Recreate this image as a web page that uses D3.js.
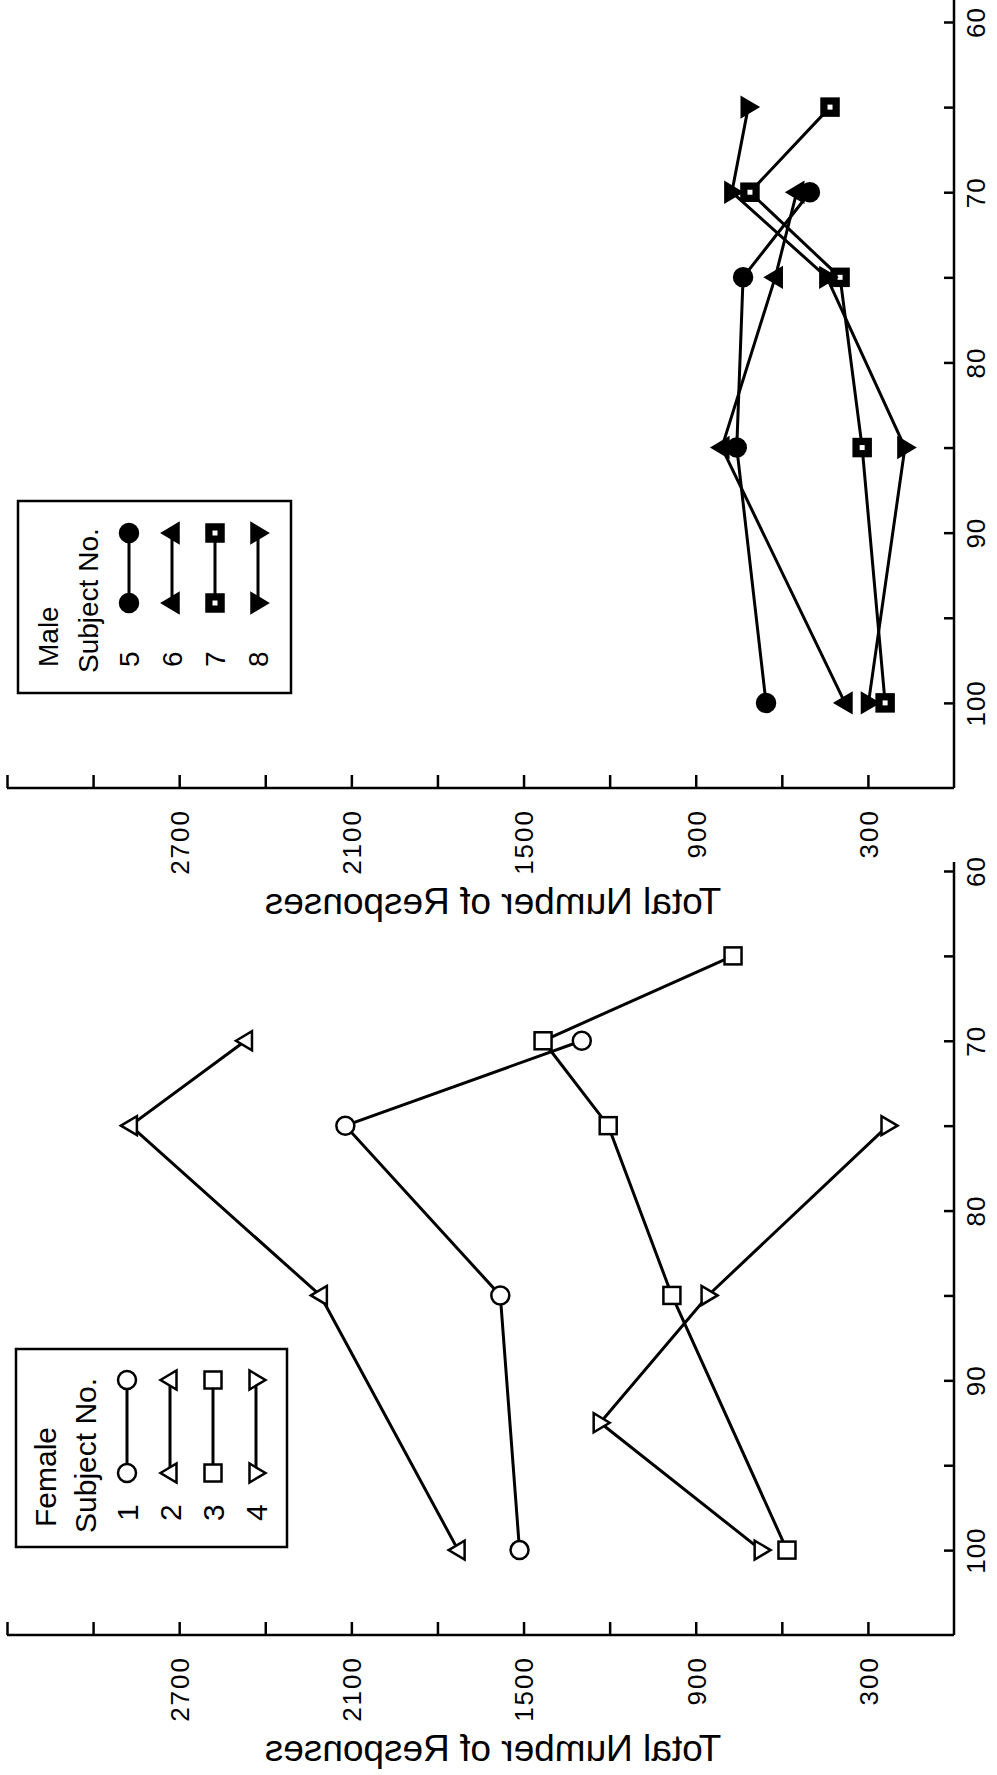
<!DOCTYPE html>
<html>
<head>
<meta charset="utf-8">
<script src="https://cdnjs.cloudflare.com/ajax/libs/d3/7.8.5/d3.min.js"></script>
<style>
    body { margin: 0; background: #fff; }
    svg { display: block; font-family: 'Liberation Sans', Arial, sans-serif; }
    .domain, .tick line { stroke: #000; stroke-width: 2.5; }
</style>
</head>
<body>
<div id="chart"></div>
<script>
//Ejes
const CAT_TICKS = [60, 65, 70, 75, 80, 85, 90, 95, 100];
const CAT_LABELS = [60, 70, 80, 90, 100];
const VAL_TICKS = [300, 600, 900, 1200, 1500, 1800, 2100, 2400, 2700, 3000, 3300];
const VAL_LABELS = [300, 900, 1500, 2100, 2700];
const AXIS_TITLE = 'Total Number of Responses';

//Female (sujetos 1-4)
const s1Cat = [70, 75, 85, 100], s1Val = [1297, 2121, 1581, 1514];
const s2Cat = [70, 75, 85, 100], s2Val = [2469, 2870, 2208, 1728];
const s3Cat = [65, 70, 75, 85, 100], s3Val = [770, 1432, 1205, 983, 582];
const s4Cat = [75, 85, 92.5, 100], s4Val = [230, 857, 1233, 672];

//Male (sujetos 5-8)
const s5Cat = [70, 75, 85, 100], s5Val = [502, 735, 757, 655];
const s6Cat = [70, 75, 85, 100], s6Val = [548, 623, 809, 380];
const s7Cat = [65, 70, 75, 85, 100], s7Val = [432, 711, 397, 320, 240];
const s8Cat = [65, 70, 75, 85, 100], s8Val = [717, 774, 443, 171, 298];

function serie(id, cat, val, symbol, filled) {
    return { id: id, symbol: symbol, filled: filled,
        points: cat.map(function(c, i) { return { cat: c, val: val[i] }; }) };
}

const panels = [
    {
        title: 'Male', yRange: [22, 788], lineTop: 0,
        legend: { x: 18, y: 501, w: 273, h: 192, top: 32, bottom: 102, num: 166, font: 28, textBottom: 172 },
        series: [
            serie('5', s5Cat, s5Val, 'circle', true),
            serie('6', s6Cat, s6Val, 'triLeft', true),
            serie('7', s7Cat, s7Val, 'square', true),
            serie('8', s8Cat, s8Val, 'triRight', true)
        ]
    },
    {
        title: 'Female', yRange: [871, 1635], lineTop: 862,
        legend: { x: 16, y: 1349, w: 271, h: 198, top: 31, bottom: 124, num: 172, font: 30, textBottom: 184 },
        series: [
            serie('1', s1Cat, s1Val, 'circle', false),
            serie('2', s2Cat, s2Val, 'triLeft', false),
            serie('3', s3Cat, s3Val, 'square', false),
            serie('4', s4Cat, s4Val, 'triRight', false)
        ]
    }
];

let svg = d3.select('#chart')
    .append('svg')
        .attr('width', 997)
        .attr('height', 1775);

let x = d3.scaleLinear()
    .domain([0, 3300])
    .range([954, 7]);

//Marcadores
function drawSymbol(g, type, filled, cx, cy) {
    let fill = filled ? '#000' : '#fff';
    if (type == 'circle') {
        g.append('circle').attr('cx', cx).attr('cy', cy).attr('r', 9)
            .attr('fill', fill).attr('stroke', '#000').attr('stroke-width', 2.5);
    } else if (type == 'square') {
        g.append('rect').attr('x', cx - 8.5).attr('y', cy - 8.5).attr('width', 17).attr('height', 17)
            .attr('fill', fill).attr('stroke', '#000').attr('stroke-width', 2.5);
        if (filled) {
            g.append('rect').attr('x', cx - 2.5).attr('y', cy - 2.5).attr('width', 5).attr('height', 5).attr('fill', '#fff');
        }
    } else {
        let dir = type == 'triLeft' ? -1 : 1;
        let pts = [[cx + dir * 9.5, cy], [cx - dir * 6.5, cy - 9.5], [cx - dir * 6.5, cy + 9.5]];
        g.append('path').attr('d', 'M' + pts.join('L') + 'Z')
            .attr('fill', fill).attr('stroke', '#000').attr('stroke-width', 2.5).attr('stroke-linejoin', 'miter');
    }
}

panels.forEach(function(p) {
    let y = d3.scaleLinear()
        .domain([60, 105])
        .range(p.yRange);
    let axisY = y(105);

    //Eje de respuestas (horizontal)
    let xAxis = d3.axisBottom(x)
        .tickValues(VAL_TICKS)
        .tickSizeInner(-13)
        .tickSizeOuter(0)
        .tickFormat(function(d) { return VAL_LABELS.indexOf(d) > -1 ? d : ''; });

    let gx = svg.append('g')
        .attr('transform', 'translate(0,' + axisY + ')')
        .call(xAxis);
    gx.select('.domain').attr('d', 'M' + x(0) + ',0H' + x(3300));
    gx.selectAll('.tick text')
        .attr('transform', 'rotate(-90)')
        .attr('x', -21)
        .attr('y', 0)
        .attr('dy', '0.36em')
        .attr('text-anchor', 'end')
        .attr('font-size', 26)
        .attr('letter-spacing', 2)
        .attr('fill', '#000');

    //Eje de tono (vertical)
    let yAxis = d3.axisRight(y)
        .tickValues(CAT_TICKS)
        .tickSizeInner(-10)
        .tickSizeOuter(0)
        .tickFormat(function(d) { return CAT_LABELS.indexOf(d) > -1 ? d : ''; });

    let gy = svg.append('g')
        .attr('transform', 'translate(' + x(0) + ',0)')
        .call(yAxis);
    gy.select('.domain').attr('d', 'M0,' + p.lineTop + 'V' + axisY);
    gy.selectAll('.tick text')
        .attr('transform', 'translate(22,0) rotate(-90)')
        .attr('x', 0)
        .attr('y', 0)
        .attr('dy', '0.36em')
        .attr('text-anchor', 'middle')
        .attr('font-size', 26)
        .attr('letter-spacing', 1)
        .attr('fill', '#000');

    //Titulo del eje (espejado como en el original)
    svg.append('text')
        .attr('transform', 'translate(493,' + (axisY + 126) + ') scale(-1,1)')
        .attr('text-anchor', 'middle')
        .attr('font-size', 37)
        .text(AXIS_TITLE);

    //Lineas
    let line = d3.line()
        .x(function(d) { return x(d.val); })
        .y(function(d) { return y(d.cat); });

    svg.append('g')
        .selectAll('path')
        .data(p.series)
        .enter()
        .append('path')
        .attr('d', function(d) { return line(d.points); })
        .attr('fill', 'none')
        .attr('stroke', '#000')
        .attr('stroke-width', 3);

    let gm = svg.append('g');
    p.series.forEach(function(s) {
        s.points.forEach(function(d) {
            drawSymbol(gm, s.symbol, s.filled, x(d.val), y(d.cat));
        });
    });

    //Leyenda
    let L = p.legend;
    let gl = svg.append('g').attr('transform', 'translate(' + L.x + ',' + L.y + ')');
    gl.append('rect')
        .attr('width', L.w).attr('height', L.h)
        .attr('fill', '#fff').attr('stroke', '#000').attr('stroke-width', 2.5);
    gl.append('text')
        .attr('transform', 'translate(40,' + (L.textBottom - 6) + ') rotate(-90)')
        .attr('font-size', L.font)
        .text(p.title);
    gl.append('text')
        .attr('transform', 'translate(80,' + L.textBottom + ') rotate(-90)')
        .attr('font-size', L.font)
        .text('Subject No.');

    p.series.forEach(function(s, i) {
        let cx = 111 + i * 43;
        gl.append('text')
            .attr('transform', 'translate(' + cx + ',' + L.num + ') rotate(-90)')
            .attr('dy', '0.36em')
            .attr('font-size', L.font)
            .text(s.id);
        gl.append('line')
            .attr('x1', cx).attr('x2', cx)
            .attr('y1', L.top).attr('y2', L.bottom)
            .attr('stroke', '#000').attr('stroke-width', 3);
        drawSymbol(gl, s.symbol, s.filled, cx, L.top);
        drawSymbol(gl, s.symbol, s.filled, cx, L.bottom);
    });
});
</script>
</body>
</html>
